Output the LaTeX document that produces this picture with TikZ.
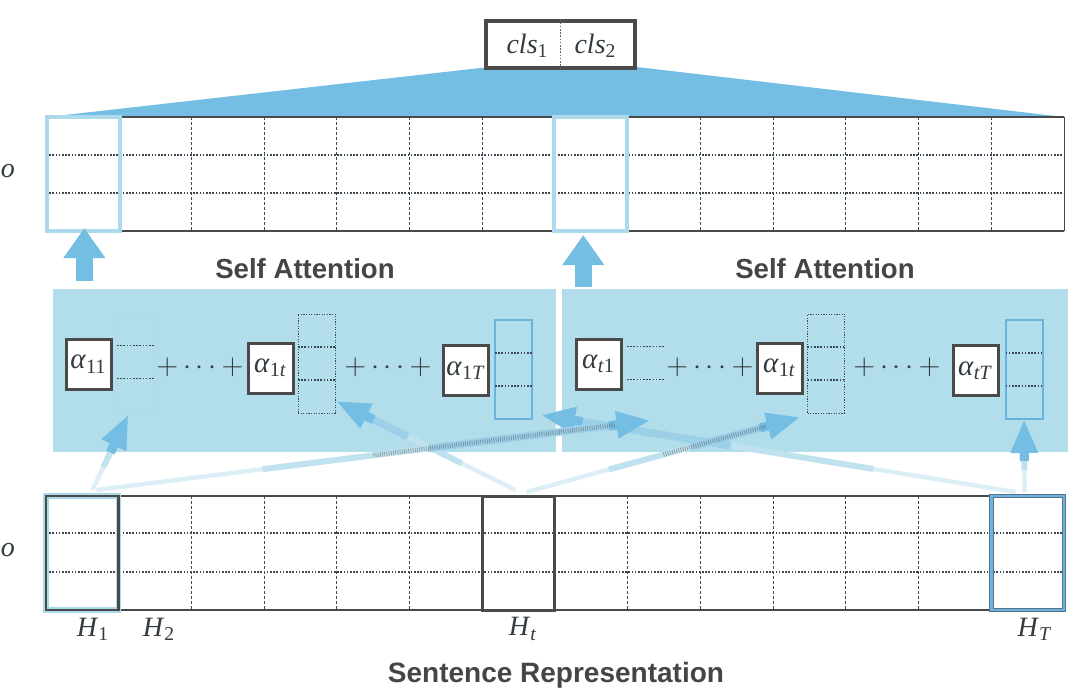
\documentclass[tikz,border=0pt]{standalone}
\usepackage{fontspec}
\setsansfont{Liberation Sans}
\newfontfamily\tms{Liberation Serif}
\usetikzlibrary{calc,arrows.meta}
\definecolor{darkc}{HTML}{4A4A4A}
\definecolor{blueA}{HTML}{74BDE3}
\definecolor{panelc}{HTML}{B2DDEA}
\definecolor{hlc}{HTML}{ADDAEA}
\definecolor{vblue}{HTML}{6AB3E0}
\definecolor{gridc}{HTML}{3C4852}
\definecolor{fainc}{HTML}{9CD1E6}
\definecolor{fa1}{HTML}{DCEFF6}
\definecolor{fa2}{HTML}{C0E2EF}
\definecolor{fa3}{HTML}{9CD0E9}
\definecolor{txtc}{HTML}{454545}
\definecolor{mtxt}{HTML}{333B40}
\newcommand\fadearrow[2]{%
  \draw[fa1, line width=2.2pt] (#1) -- ($(#1)!0.31!(#2)$);
  \draw[fa2, line width=3pt] ($(#1)!0.3!(#2)$) -- ($(#1)!0.61!(#2)$);
  \draw[fa3, line width=3.8pt] ($(#1)!0.6!(#2)$) -- ($(#2)!19pt!(#1)$);
  \draw[blueA, line width=4.6pt, -{Triangle[width=12.5pt,length=17pt]}] ($(#2)!21pt!(#1)$) -- (#2);
}
\newcommand\stipple[2]{%
  \draw[darkc, opacity=0.45, line width=2.2pt, dash pattern=on 0.4pt off 0.7pt] ($(#1)!0.5!(#2)$) -- ($(#2)!18pt!(#1)$);
}
\newcommand\mv[2]{{\tms\textit{#1}\textsubscript{\upshape #2}}}
\begin{document}
\begin{tikzpicture}[x=0.5pt,y=-0.5pt,line cap=butt,
  lab/.style={font=\fontsize{14}{16}\selectfont, text=mtxt, inner sep=0pt},
  titl/.style={font=\sffamily\bfseries\fontsize{13.8}{16}\selectfont, text=txtc, inner sep=0pt},
  abox/.style={draw=darkc, line width=1.5pt, fill=white, inner sep=0pt, minimum width=22.5pt, minimum height=25pt, font=\fontsize{14.5}{16}\selectfont, text=mtxt},
  vec/.style={inner sep=0pt, outer sep=0pt, minimum width=18.5pt, minimum height=49.5pt},
  colbox/.style={inner sep=0pt, outer sep=0pt, minimum width=36.36pt, minimum height=57pt},
  coll/.style={gridc, line width=0.5pt, dash pattern=on 1.5pt off 1pt},
  rowl/.style={gridc, line width=0.6pt, dash pattern=on 0.8pt off 0.8pt},
  divl/.style={gridc, line width=0.6pt, dash pattern=on 0.8pt off 0.8pt},
  plus/.style={font=\fontsize{13.5}{15}\selectfont, text=mtxt, inner sep=0pt},
  fatup/.style={blueA, line width=8.5pt, -{Triangle[width=20pt,length=15pt]}}
]
\useasboundingbox (0,0) rectangle (1080,693);

% ---------- top: cls box and fan ----------
\fill[blueA] (489,67) -- (637,67) -- (1064,117) -- (47,117) -- cycle;
\node[draw=darkc, line width=1.6pt, fill=white, inner sep=0pt, minimum width=74.5pt, minimum height=23.5pt] (cls) at (560.5,44.5) {};
\draw[divl, gridc!70!blueA] (cls.north) -- (cls.south);
\node[lab] (cls1) at ($(cls.center)+(-33,1)$) {\mv{cls}{1}};
\node[lab] (cls2) at ($(cls.center)+(35,1)$) {\mv{cls}{2}};

% ---------- top grid ----------
\fill[white] (46,117) rectangle (1064,231);
\foreach \i in {1,...,13} {\draw[coll] ({46+72.714*\i},117) -- ({46+72.714*\i},231);}
\draw[rowl] (46,155) -- (1064,155);
\draw[rowl] (46,193) -- (1064,193);
\draw[darkc, line width=1.1pt] (46,117) -- (1064,117);
\draw[darkc, line width=0.7pt] (46,231) -- (1064,231);
\draw[gridc, line width=0.5pt] (1064,117) -- (1064,231);
\draw[gridc, line width=0.5pt] (46,117) -- (46,231);
\node[colbox, draw=hlc, line width=2pt] (O1) at (83.36,174) {};
\node[colbox, draw=hlc, line width=2pt] (Ot) at (590.3,174) {};
\node[lab] (otop) at (8,171) {\tms\itshape o};

% ---------- up arrows ----------
\coordinate (u1s) at ($(O1.south)+(1,50)$);
\coordinate (u1e) at ($(O1.south)+(1,-3)$);
\coordinate (u2s) at ($(Ot.south)+(-7,56)$);
\coordinate (u2e) at ($(Ot.south)+(-7,4)$);
\draw[fatup] (u1s) -- (u1e);
\draw[fatup] (u2s) -- (u2e);

% ---------- titles ----------
\node[titl] (sa1) at (305,269) {Self Attention};
\node[titl] (sa2) at (825,269) {Self Attention};

% ---------- panels ----------
\fill[panelc] (53,289) rectangle (556,452);
\fill[panelc] (562,289) rectangle (1068,452);

% ---------- vectors ----------
\node[vec, draw=fainc, line width=0.5pt, dash pattern=on 0.6pt off 3pt] (v11) at (135.5,362) {};
\node[vec, draw=gridc, line width=0.5pt, dash pattern=on 0.6pt off 0.7pt] (v1t) at (316.5,363.5) {};
\node[vec, draw=vblue, line width=1pt] (v1T) at (513.5,369.5) {};
\node[vec] (vt1) at (645.5,363) {};
\node[vec, draw=gridc, line width=0.5pt, dash pattern=on 0.6pt off 0.7pt] (v2t) at (826,363.5) {};
\node[vec, draw=vblue, line width=1pt] (vtT) at (1024,369.5) {};
\foreach \v in {v11,v1t,v1T,vt1,v2t,vtT} {
  \draw[divl] ($(\v.north west)!0.333!(\v.south west)$) -- ($(\v.north east)!0.333!(\v.south east)$);
  \draw[divl] ($(\v.north west)!0.667!(\v.south west)$) -- ($(\v.north east)!0.667!(\v.south east)$);
}

% ---------- bottom grid nodes ----------
\node[colbox] (H1) at (82.36,553) {};
\node[colbox] (Ht) at (518.6,553) {};
\node[colbox] (HT) at (1027.6,553) {};

% ---------- faded connectors ----------
\coordinate (t1) at ($(H1.north)+(10,-6)$);
\coordinate (e1) at ($(v11.south)+(-7,3)$);
\coordinate (t2) at ($(H1.north)+(14,-6)$);
\coordinate (e2) at ($(vt1.south)+(5,8)$);
\coordinate (t3) at ($(Ht.north)+(-3,-6)$);
\coordinate (e3) at ($(v1t.south east)+(1,-12)$);
\coordinate (t4) at ($(Ht.north)+(8,-4)$);
\coordinate (e4) at ($(v2t.south west)+(-7,4)$);
\coordinate (t5) at ($(HT.north)+(-12,-4)$);
\coordinate (e5) at ($(v1T.south east)+(9,-4)$);
\coordinate (t6) at ($(HT.north)+(-3,-4)$);
\coordinate (e6) at ($(vtT.south)+(0,0)$);
\fadearrow{t3}{e3}
\fadearrow{t5}{e5}
\fadearrow{t1}{e1}
\fadearrow{t2}{e2}
\stipple{t2}{e2}
\fadearrow{t4}{e4}
\stipple{t4}{e4}
\fadearrow{t6}{e6}

% ---------- alpha boxes ----------
\node[abox] (a11) at (88.5,364) {\mv{α}{11}};
\node[abox] (a1t) at (270.5,368) {\mv{α}{1\textit{t}}};
\node[abox] (a1T) at (466,370.5) {\mv{α}{1\textit{T}}};
\node[abox] (at1) at (598.5,364) {\mv{α}{\textit{t}1}};
\node[abox] (a2t) at (779.5,368) {\mv{α}{1\textit{t}}};
\node[abox] (atT) at (975.5,370.5) {\mv{α}{\textit{tT}}};
\node[plus] (p1) at (200,367) {$+\cdots+$};
\node[plus] (p2) at (388,367) {$+\cdots+$};
\node[plus] (p3) at (710,367) {$+\cdots+$};
\node[plus] (p4) at (897,367) {$+\cdots+$};

% ---------- bottom grid ----------
\fill[white] (46,496) rectangle (1064,610);
\foreach \i in {1,...,13} {\draw[coll] ({46+72.714*\i},496) -- ({46+72.714*\i},610);}
\draw[rowl] (46,533) -- (1064,533);
\draw[rowl] (46,572) -- (1064,572);
\draw[darkc, line width=1.1pt] (46,496) -- (1064,496);
\draw[darkc, line width=0.7pt] (46,610) -- (1064,610);
\draw[gridc, line width=0.5pt] (46,496) -- (46,610);
\draw[gridc, line width=0.5pt] (1064,496) -- (1064,610);
\draw[hlc, line width=2.6pt] (H1.north west) rectangle (H1.south east);
\draw[darkc, line width=1.3pt] (H1.north west) rectangle (H1.south east);
\draw[darkc, line width=1.5pt] (Ht.north west) rectangle (Ht.south east);
\draw[darkc!60!vblue, line width=2.4pt] (HT.north west) rectangle (HT.south east);
\draw[vblue, line width=1.4pt] (HT.north west) rectangle (HT.south east);
\node[lab] (obot) at (8,550) {\tms\itshape o};

% ---------- labels ----------
\node[lab] (lH1) at (93,629) {\mv{H}{1}};
\node[lab] (lH2) at (159,629) {\mv{H}{2}};
\node[lab] (lHt) at (523,629) {\mv{H}{\textit{t}}};
\node[lab] (lHT) at (1035,629) {\mv{H}{\textit{T}}};
\node[titl, font=\sffamily\bfseries\fontsize{14}{16}\selectfont] (sr) at (556,675) {Sentence Representation};
\end{tikzpicture}
\end{document}
